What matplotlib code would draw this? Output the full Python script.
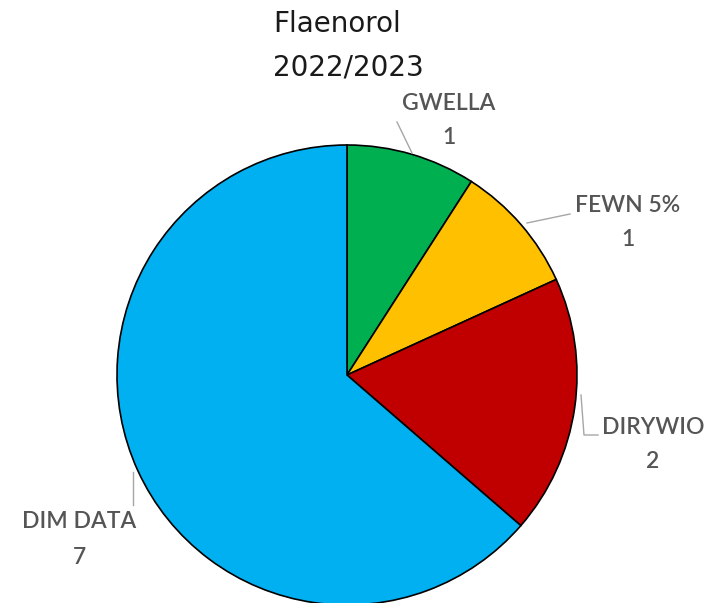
import matplotlib
matplotlib.use("Agg")
import matplotlib.pyplot as plt

#%% Data

categories = ["GWELLA", "FEWN 5%", "DIRYWIO", "DIM DATA"]
values = [1, 1, 2, 7]
colours = ["#00B050", "#FFC000", "#C00000", "#00B0F0"]

title_lines = ["Flaenorol", "2022/2023"]

#%% Layout (pixels of the 716x603 figure)

W, H = 716, 603
cx, cy, r_px = 347, 375, 230

# label centre (name line), leader line points
label_pos = [(449, 103), (628, 205), (653, 427), (79, 522)]
leaders = [
    [(397, 122), (412, 153)],
    [(570, 214), (527, 223)],
    [(598, 435), (584, 435), (581, 395)],
    [(133, 505), (133, 472)],
]


def to_data(px, py):
    return (px - cx) / r_px, (cy - py) / r_px


fig = plt.figure(figsize=(W / 100, H / 100), dpi=100)
ax = fig.add_axes([0, 0, 1, 1])

ax.pie(values, colors=colours, startangle=90, counterclock=False, radius=1,
       wedgeprops=dict(edgecolor="black", linewidth=1.2))

ax.set_aspect("auto")
ax.set_xlim(to_data(0, 0)[0], to_data(W, 0)[0])
ax.set_ylim(to_data(0, H)[1], to_data(0, 0)[1])
ax.axis("off")

label_font = dict(family="Lato", fontsize=16.5, fontweight="semibold",
                  color="#555555", ha="center", va="center")
line_gap = 35

for name, val, (lx, ly), pts in zip(categories, values, label_pos, leaders):
    ax.text(*to_data(lx, ly), name, **label_font)
    ax.text(*to_data(lx, ly + line_gap), str(val), **label_font)
    xs, ys = zip(*[to_data(px, py) for px, py in pts])
    ax.plot(xs, ys, color="#A6A6A6", lw=1)

# titre : deux lignes alignées à gauche
for txt, base in zip(title_lines, [32, 75]):
    fig.text(273 / W, 1 - base / H, txt, family="DejaVu Sans",
             fontsize=20, color="#1a1a1a", ha="left", va="baseline")

fig.savefig("out.png", dpi=100)
